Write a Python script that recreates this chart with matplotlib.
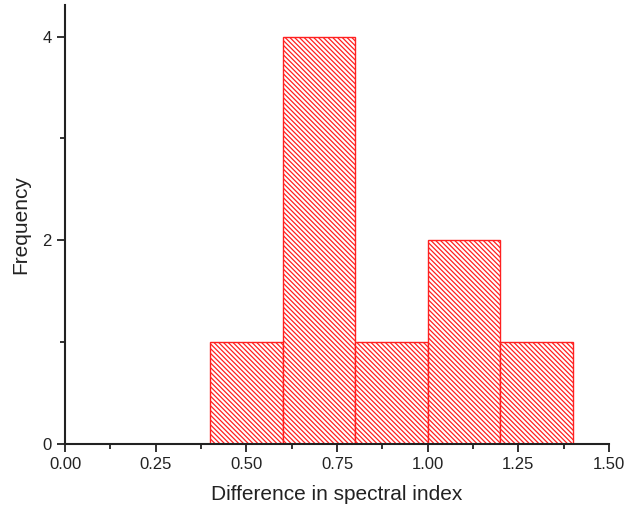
import matplotlib
matplotlib.use("Agg")
import matplotlib.pyplot as plt
from matplotlib.ticker import MultipleLocator

plt.rcParams['font.family'] = ['Liberation Sans', 'DejaVu Sans']
plt.rcParams['hatch.color'] = '#ff2020'
plt.rcParams['hatch.linewidth'] = 0.9

# Histogram bins (spectral index difference) and counts
bin_edges = [0.4, 0.6, 0.8, 1.0, 1.2, 1.4]
counts = [1, 4, 1, 2, 1]

fig = plt.figure(figsize=(6.26, 5.15), dpi=100)
ax = fig.add_axes([65 / 626, 71 / 515, 544 / 626, 439 / 515])

lefts = bin_edges[:-1]
widths = [b - a for a, b in zip(bin_edges[:-1], bin_edges[1:])]
ax.bar(lefts, counts, width=widths, align='edge', facecolor='white',
       edgecolor='#ff2020', linewidth=1.0, hatch='\\' * 7, zorder=2)

ax.set_xlim(0, 1.5)
ax.set_ylim(0, 4.31)
ax.xaxis.set_major_locator(MultipleLocator(0.25))
ax.xaxis.set_minor_locator(MultipleLocator(0.125))
ax.yaxis.set_major_locator(MultipleLocator(2))
ax.yaxis.set_minor_locator(MultipleLocator(1))
ax.xaxis.set_major_formatter(plt.FormatStrFormatter('%.2f'))

for s in ['top', 'right']:
    ax.spines[s].set_visible(False)
for s in ['left', 'bottom']:
    ax.spines[s].set_linewidth(1.5)
    ax.spines[s].set_color('#222222')

ax.tick_params(which='major', direction='out', length=6, width=1.3,
               labelsize=12, colors='#222222')
ax.tick_params(which='minor', direction='out', length=3.5, width=1.3,
               colors='#222222')

ax.set_xlabel('Difference in spectral index', fontsize=15, labelpad=9,
              color='#222222')
ax.set_ylabel('Frequency', fontsize=15, labelpad=9, color='#222222')

fig.savefig('out.png', dpi=100)
